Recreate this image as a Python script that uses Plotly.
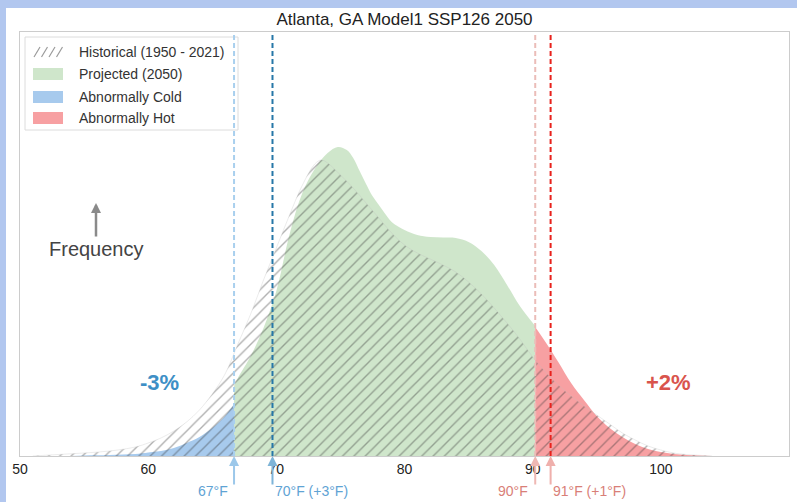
import plotly.graph_objects as go

# ---------------- data ----------------
# Historical (1950-2021) daily max temperature distribution (relative frequency, arbitrary units)
hist_temp = [51, 53, 55, 57, 59, 60, 61, 62, 63, 64, 65, 66, 67, 68, 69, 70, 71, 72, 73, 73.5,
             74, 75, 76, 77, 78, 79, 80, 81, 82, 83, 84, 85, 86, 87, 88, 89, 90, 91, 92, 93,
             94, 95, 96, 97, 98, 99, 100, 101, 102, 104]
hist_freq = [0, 1.5, 3, 5, 9, 13, 18, 25, 34, 46, 62, 82, 112, 142, 176, 208, 240, 270, 292, 296,
             293, 281, 268, 253, 238, 223, 211, 203, 197, 191, 184, 174, 162, 148, 133, 117, 99, 84, 71, 60,
             50, 41, 32, 23, 16, 10, 6, 3, 1.5, 0]

# Projected (2050) distribution, normal part (between thresholds)
proj_temp = [66.7, 67, 68, 69, 70, 71, 72, 73, 74, 74.8, 75.5, 76, 76.5, 77, 77.5, 78, 78.5, 79,
             80, 81, 82, 83, 84, 85, 86, 87, 88, 89, 90.2]
proj_freq = [70, 78, 100, 128, 165, 220, 262, 287, 303, 309, 306, 298, 285, 272, 260, 251, 242, 234,
             226, 221, 219, 218.5, 218, 214, 205, 191, 171, 150, 130]

# Projected – abnormally cold part (below historical cold threshold)
cold_temp = [54, 55, 57, 59, 60, 61, 62, 63, 64, 65, 66, 66.7]
cold_freq = [0, 0.5, 1, 2, 3.5, 5, 8, 13, 19, 28, 40, 52]

# Projected – abnormally hot part (above historical hot threshold)
hot_temp = [90.2, 91, 92, 93, 94, 95, 96, 97, 98, 99, 100, 101, 102, 103, 104]
hot_freq = [129, 114, 94, 73, 56, 40, 28, 19, 12, 7, 4, 2, 1, 0.5, 0]

# thresholds
hist_cold, proj_cold = 66.7, 69.7
hist_hot, proj_hot = 90.2, 91.4
cold_labels = ["67°F", "70°F (+3°F)"]
hot_labels = ["90°F", "91°F (+1°F)"]
cold_change, hot_change = "-3%", "+2%"
x_ticks = [50, 60, 70, 80, 90, 100, 110]
legend_names = ["Historical (1950 - 2021)", "Projected (2050)", "Abnormally Cold", "Abnormally Hot"]

FONT = "Arial, Liberation Sans, Helvetica, sans-serif"
GREEN = "rgba(200,226,196,0.88)"
BLUE = "rgba(160,198,236,0.92)"
RED = "rgba(246,152,154,0.92)"

# plot-area geometry helpers (pixel -> paper)
L, R, T, B, W, H = 20, 8, 32, 46, 797, 502
PW, PH = W - L - R, H - T - B
def px(x):
    return (x - L) / PW
def py(y):
    return (H - B - y) / PH

fig = go.Figure()

fig.add_trace(go.Scatter(
    x=proj_temp, y=proj_freq, mode="lines", line=dict(width=0, shape="spline"),
    fill="tozeroy", fillcolor=GREEN, name=legend_names[1], showlegend=False, hoverinfo="skip"))
fig.add_trace(go.Scatter(
    x=cold_temp, y=cold_freq, mode="lines", line=dict(width=0, shape="spline"),
    fill="tozeroy", fillcolor=BLUE, name=legend_names[2], showlegend=False, hoverinfo="skip"))
fig.add_trace(go.Scatter(
    x=hot_temp, y=hot_freq, mode="lines", line=dict(width=0, shape="spline"),
    fill="tozeroy", fillcolor=RED, name=legend_names[3], showlegend=False, hoverinfo="skip"))
fig.add_trace(go.Scatter(
    x=hist_temp, y=hist_freq, mode="lines",
    line=dict(width=0.6, shape="spline", color="rgba(190,190,190,0.5)"),
    fill="tozeroy", fillcolor="rgba(0,0,0,0)",
    fillpattern=dict(shape="/", fgcolor="rgba(55,55,55,0.8)", bgcolor="rgba(0,0,0,0)",
                     size=8, solidity=0.17),
    name=legend_names[0], showlegend=False, hoverinfo="skip"))

shapes = []
# background bands of the picture
shapes.append(dict(type="rect", xref="paper", yref="paper", x0=px(-5), x1=px(6),
                   y0=py(510), y1=py(-5), fillcolor="#b2c7ef", line=dict(width=0), layer="below"))
shapes.append(dict(type="rect", xref="paper", yref="paper", x0=px(-5), x1=px(805),
                   y0=py(8), y1=py(-5), fillcolor="#b2c7ef", line=dict(width=0), layer="below"))

# legend box (drawn manually to get matplotlib-like patches)
shapes.append(dict(type="rect", xref="paper", yref="paper", x0=px(25), x1=px(238),
                   y0=py(130), y1=py(37), fillcolor="rgba(255,255,255,0.92)",
                   line=dict(color="#dcdcdc", width=1), layer="above"))
row_y = [52, 74, 97, 118]
patch_fill = [None, GREEN, BLUE, RED]
for ry, fc in zip(row_y, patch_fill):
    if fc is not None:
        shapes.append(dict(type="rect", xref="paper", yref="paper", x0=px(33), x1=px(63),
                           y0=py(ry + 6), y1=py(ry - 6), fillcolor=fc,
                           line=dict(width=0), layer="above"))
    else:
        for sx in [34, 41.5, 49, 56.5]:
            shapes.append(dict(type="line", xref="paper", yref="paper",
                               x0=px(sx), x1=px(sx + 6), y0=py(ry + 5), y1=py(ry - 5),
                               line=dict(color="#9a9a9a", width=1.2), layer="above"))

# threshold lines (drawn over the legend box, as in the reference)
for xv, col in [(hist_cold, "#a9d0ee"), (proj_cold, "#2677a8"),
                (hist_hot, "#ebbdb8"), (proj_hot, "#e8221c")]:
    shapes.append(dict(type="line", xref="x", yref="paper", x0=xv, x1=xv, y0=0, y1=1,
                       line=dict(color=col, width=2, dash="5px,3px"), layer="above"))

annotations = []
for ry, name in zip(row_y, legend_names):
    annotations.append(dict(x=px(77), y=py(ry), xref="paper", yref="paper", text=name,
                            showarrow=False, xanchor="left", yanchor="middle",
                            font=dict(family=FONT, size=14, color="#333333")))
# bottom arrows
for xv, col in [(hist_cold, "#9cc8ea"), (proj_cold, "#7eb4d8"),
                (hist_hot, "#efb8b4"), (proj_hot, "#efb0ac")]:
    annotations.append(dict(x=xv, y=0, xref="x", yref="y", ax=0, ay=30, text="",
                            showarrow=True, arrowhead=2, arrowsize=1, arrowwidth=2,
                            arrowcolor=col))
annotations.append(dict(x=hist_cold - 0.3, y=py(491), xref="x", yref="paper", text=cold_labels[0],
                        showarrow=False, xanchor="right", yanchor="middle",
                        font=dict(family=FONT, size=14, color="#5fa3d4")))
annotations.append(dict(x=proj_cold + 0.05, y=py(491), xref="x", yref="paper", text=cold_labels[1],
                        showarrow=False, xanchor="left", yanchor="middle",
                        font=dict(family=FONT, size=14, color="#5fa3d4")))
annotations.append(dict(x=hist_hot - 0.4, y=py(491), xref="x", yref="paper", text=hot_labels[0],
                        showarrow=False, xanchor="right", yanchor="middle",
                        font=dict(family=FONT, size=14, color="#d97f78")))
annotations.append(dict(x=proj_hot + 0.05, y=py(491), xref="x", yref="paper", text=hot_labels[1],
                        showarrow=False, xanchor="left", yanchor="middle",
                        font=dict(family=FONT, size=14, color="#d97f78")))
# change labels
annotations.append(dict(x=60.85, y=py(382), xref="x", yref="paper", text="<b>%s</b>" % cold_change,
                        showarrow=False, xanchor="center", yanchor="middle",
                        font=dict(family=FONT, size=22, color="#3d8fc6")))
annotations.append(dict(x=100.6, y=py(382), xref="x", yref="paper", text="<b>%s</b>" % hot_change,
                        showarrow=False, xanchor="center", yanchor="middle",
                        font=dict(family=FONT, size=22, color="#d9544c")))
# frequency arrow
annotations.append(dict(x=px(96), y=py(203), xref="paper", yref="paper", ax=0, ay=35, text="",
                        showarrow=True, arrowhead=2, arrowsize=0.8, arrowwidth=2.5,
                        arrowcolor="#8a8a8a"))
annotations.append(dict(x=px(96), y=py(249), xref="paper", yref="paper", text="Frequency",
                        showarrow=False, xanchor="center", yanchor="middle",
                        font=dict(family=FONT, size=20, color="#444444")))

fig.update_layout(
    width=W, height=H,
    margin=dict(l=L, r=R, t=T, b=B),
    paper_bgcolor="white", plot_bgcolor="white",
    title=dict(text="Atlanta, GA Model1 SSP126 2050", x=0.5, xref="paper", y=1 - 19 / H,
               yanchor="middle", xanchor="center",
               font=dict(family=FONT, size=17, color="#222222")),
    xaxis=dict(range=[50, 110], tickvals=x_ticks, showgrid=False, zeroline=False,
               showline=True, linecolor="#cccccc", linewidth=1, mirror=True,
               ticks="", tickfont=dict(family=FONT, size=14, color="#222222")),
    yaxis=dict(range=[0, 424], showticklabels=False, showgrid=False, zeroline=False,
               showline=True, linecolor="#cccccc", linewidth=1, mirror=True, ticks=""),
    shapes=shapes, annotations=annotations, showlegend=False,
)

fig.write_html("out.html")
